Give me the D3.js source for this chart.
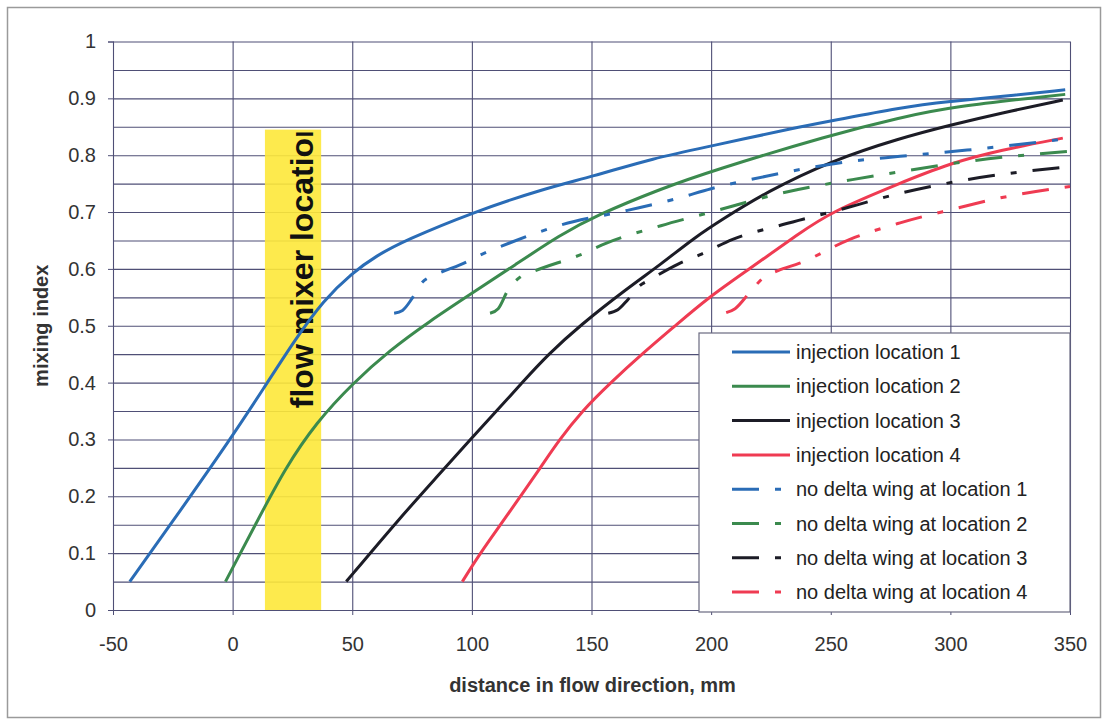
<!DOCTYPE html>
<html>
<head>
<meta charset="utf-8">
<script src="https://cdn.jsdelivr.net/npm/d3@7"></script>
<style>
body { margin: 0; background: #fff; }
text { font-family: "Liberation Sans", Arial, sans-serif; }
</style>
</head>
<body>
<svg id="chart" width="1107" height="720"></svg>
<script>
// values: [distance mm, mixing index]
var inj1 = [[-43,0.05],[-26,0.15],[-1,0.3],[13,0.39],[26,0.475],[38,0.545],[50,0.593],[60,0.623],[72,0.65],[100,0.699],[130,0.741],[150,0.762],[176,0.795],[200,0.816],[237,0.85],[250,0.86],[279,0.884],[300,0.895],[321,0.903],[348,0.915]];
var inj2 = [[-3,0.05],[9.5,0.15],[22,0.25],[35,0.33],[50,0.398],[66,0.458],[82,0.507],[100,0.557],[118,0.607],[137,0.66],[152,0.694],[179,0.741],[200,0.772],[250,0.836],[279,0.866],[300,0.885],[348,0.907]];
var inj3 = [[47.5,0.05],[69.5,0.16],[86,0.237],[100,0.303],[111,0.353],[121,0.4],[132,0.45],[145,0.5],[165,0.566],[179,0.608],[193,0.655],[205,0.688],[223,0.735],[250,0.79],[279,0.83],[300,0.853],[321,0.874],[347,0.897]];
var inj4 = [[96,0.05],[103.5,0.1],[112,0.15],[120.3,0.2],[128.6,0.25],[136.3,0.298],[146,0.35],[158,0.4],[171,0.45],[185,0.5],[198.6,0.549],[216,0.6],[237,0.663],[250,0.7],[279,0.751],[300,0.786],[321,0.809],[347,0.83]];
var noWing1 = [[67.5,0.522],[71,0.527],[75,0.548],[79,0.575],[85,0.59],[95,0.607],[106,0.629],[116,0.646],[137,0.677],[165,0.703],[186,0.724],[200,0.741],[223,0.763],[258,0.789],[279,0.798],[307,0.809],[347,0.828]];
var noWing2 = [[107.6,0.522],[111,0.53],[115,0.562],[120,0.585],[126,0.596],[146,0.626],[156,0.645],[179,0.676],[200,0.7],[229,0.733],[259,0.757],[279,0.771],[307,0.789],[350,0.807]];
var noWing3 = [[157,0.522],[161,0.528],[165,0.545],[170,0.57],[174,0.58],[186,0.608],[196,0.626],[209,0.652],[230,0.678],[251,0.701],[279,0.733],[307,0.757],[350,0.78]];
var noWing4 = [[206.3,0.523],[210,0.53],[216,0.558],[222,0.585],[228,0.597],[237,0.61],[258,0.652],[279,0.681],[300,0.704],[321,0.725],[350,0.745]];

var seriesNames = ["injection location 1","injection location 2","injection location 3","injection location 4",
  "no delta wing at location 1","no delta wing at location 2","no delta wing at location 3","no delta wing at location 4"];
var xTicks = [-50,0,50,100,150,200,250,300,350];
var yTicks = [0,0.1,0.2,0.3,0.4,0.5,0.6,0.7,0.8,0.9,1];
var mixerZone = [13.5, 37, 0.845];   // from, to, top
var mixerLabel = "flow mixer location";

var colors = ["#2a6cb6","#3b8a4e","#1c1c26","#ef3b52"];
var series = [inj1,inj2,inj3,inj4,noWing1,noWing2,noWing3,noWing4];
var dash = "27,16,6,16";

var svg = d3.select("#chart");
var margin = {top: 41.5, right: 37, bottom: 110, left: 113};
var width = 1107 - margin.left - margin.right;
var height = 720 - margin.top - margin.bottom;

// outer chart frame
svg.append("rect")
  .attr("x", 7.5).attr("y", 7.5).attr("width", 1093).attr("height", 710)
  .attr("fill", "none").attr("stroke", "#9a9a9a").attr("stroke-width", 1.5);

var g = svg.append("g")
  .attr("transform", "translate(" + margin.left + "," + margin.top + ")");

var x = d3.scaleLinear().domain([-50, 350]).range([0, width]);
var y = d3.scaleLinear().domain([0, 1]).range([height, 0]);

var gridColor = "#4f4f76";

// grid
g.append("g")
  .call(d3.axisLeft(y).tickValues(d3.range(0, 1.0001, 0.05)).tickSize(-width).tickFormat(""))
  .call(function (s) {
    s.select(".domain").remove();
    s.selectAll("line").attr("stroke", gridColor).attr("stroke-width", 1.1);
  });
g.append("g")
  .attr("transform", "translate(0," + height + ")")
  .call(d3.axisBottom(x).tickValues(xTicks).tickSize(-height).tickFormat(""))
  .call(function (s) {
    s.select(".domain").remove();
    s.selectAll("line").attr("stroke", gridColor).attr("stroke-width", 1.1);
  });

// flow mixer zone
g.append("rect")
  .attr("x", x(mixerZone[0]))
  .attr("y", y(mixerZone[2]))
  .attr("width", x(mixerZone[1]) - x(mixerZone[0]))
  .attr("height", y(0) - y(mixerZone[2]))
  .attr("fill", "#fde83a")
  .attr("opacity", 0.9);

g.append("clipPath").attr("id", "zoneClip")
  .append("rect")
  .attr("x", x(mixerZone[0]))
  .attr("y", y(mixerZone[2]) + 3)
  .attr("width", x(mixerZone[1]) - x(mixerZone[0]))
  .attr("height", y(0) - y(mixerZone[2]));

g.append("g")
  .attr("clip-path", "url(#zoneClip)")
  .append("text")
  .attr("transform", "translate(" + (x(mixerZone[1]) - 8) + "," + (y(0.355)) + ") rotate(-90)")
  .attr("font-size", 32)
  .attr("font-weight", "bold")
  .attr("fill", "#111")
  .text(mixerLabel);

// axes
var yAxis = g.append("g")
  .call(d3.axisLeft(y).tickValues(yTicks).tickSize(5).tickPadding(12)
    .tickFormat(function (d) { return d === 0 || d === 1 ? String(d) : d3.format(".1f")(d); }));
var xAxis = g.append("g")
  .attr("transform", "translate(0," + height + ")")
  .call(d3.axisBottom(x).tickValues(xTicks).tickSize(5).tickPadding(22)
    .tickFormat(function (d) { return String(d); }));
[yAxis, xAxis].forEach(function (a) {
  a.select(".domain").attr("stroke", gridColor);
  a.selectAll("line").attr("stroke", gridColor);
  a.selectAll("text").attr("font-size", 20).attr("fill", "#333")
    .attr("font-family", "Liberation Sans, Arial, sans-serif");
});

// lines
var smooth = d3.line()
  .x(function (d) { return x(d[0]); })
  .y(function (d) { return y(d[1]); })
  .curve(d3.curveBasis);
var hooked = d3.line()
  .x(function (d) { return x(d[0]); })
  .y(function (d) { return y(d[1]); })
  .curve(d3.curveMonotoneX);

g.selectAll(".curve")
  .data(series)
  .enter()
  .append("path")
  .attr("class", "curve")
  .attr("d", function (d, i) { return i < 4 ? smooth(d) : hooked(d); })
  .attr("fill", "none")
  .attr("stroke", function (d, i) { return colors[i % 4]; })
  .attr("stroke-width", 3)
  .attr("stroke-dasharray", function (d, i) { return i < 4 ? null : dash; });

// legend
var lx = 586, ly = 291.5, lw = width - 586, lh = height - 291.5 + 2;
var legend = g.append("g").attr("transform", "translate(" + lx + "," + ly + ")");
legend.append("rect")
  .attr("width", lw).attr("height", lh)
  .attr("fill", "#fff").attr("stroke", "#6a6a80").attr("stroke-width", 1.2);

var rows = legend.selectAll(".row")
  .data(seriesNames)
  .enter()
  .append("g")
  .attr("transform", function (d, i) { return "translate(0," + (19 + i * 34.3) + ")"; });
rows.append("line")
  .attr("x1", 33).attr("x2", 91)
  .attr("stroke", function (d, i) { return colors[i % 4]; })
  .attr("stroke-width", 3)
  .attr("stroke-dasharray", function (d, i) { return i < 4 ? null : dash; });
rows.append("text")
  .attr("x", 97).attr("dy", "0.35em")
  .attr("font-size", 20)
  .attr("fill", "#222")
  .text(function (d) { return d; });

// axis titles
svg.append("text")
  .attr("x", margin.left + x(150) - x(-50) + 1)
  .attr("y", 692)
  .attr("text-anchor", "middle")
  .attr("font-size", 20).attr("font-weight", "bold").attr("fill", "#333")
  .text("distance in flow direction, mm");
svg.append("text")
  .attr("transform", "translate(48," + (margin.top + y(0.5) + 0) + ") rotate(-90)")
  .attr("text-anchor", "middle")
  .attr("font-size", 20).attr("font-weight", "bold").attr("fill", "#333")
  .text("mixing index");
</script>
</body>
</html>
